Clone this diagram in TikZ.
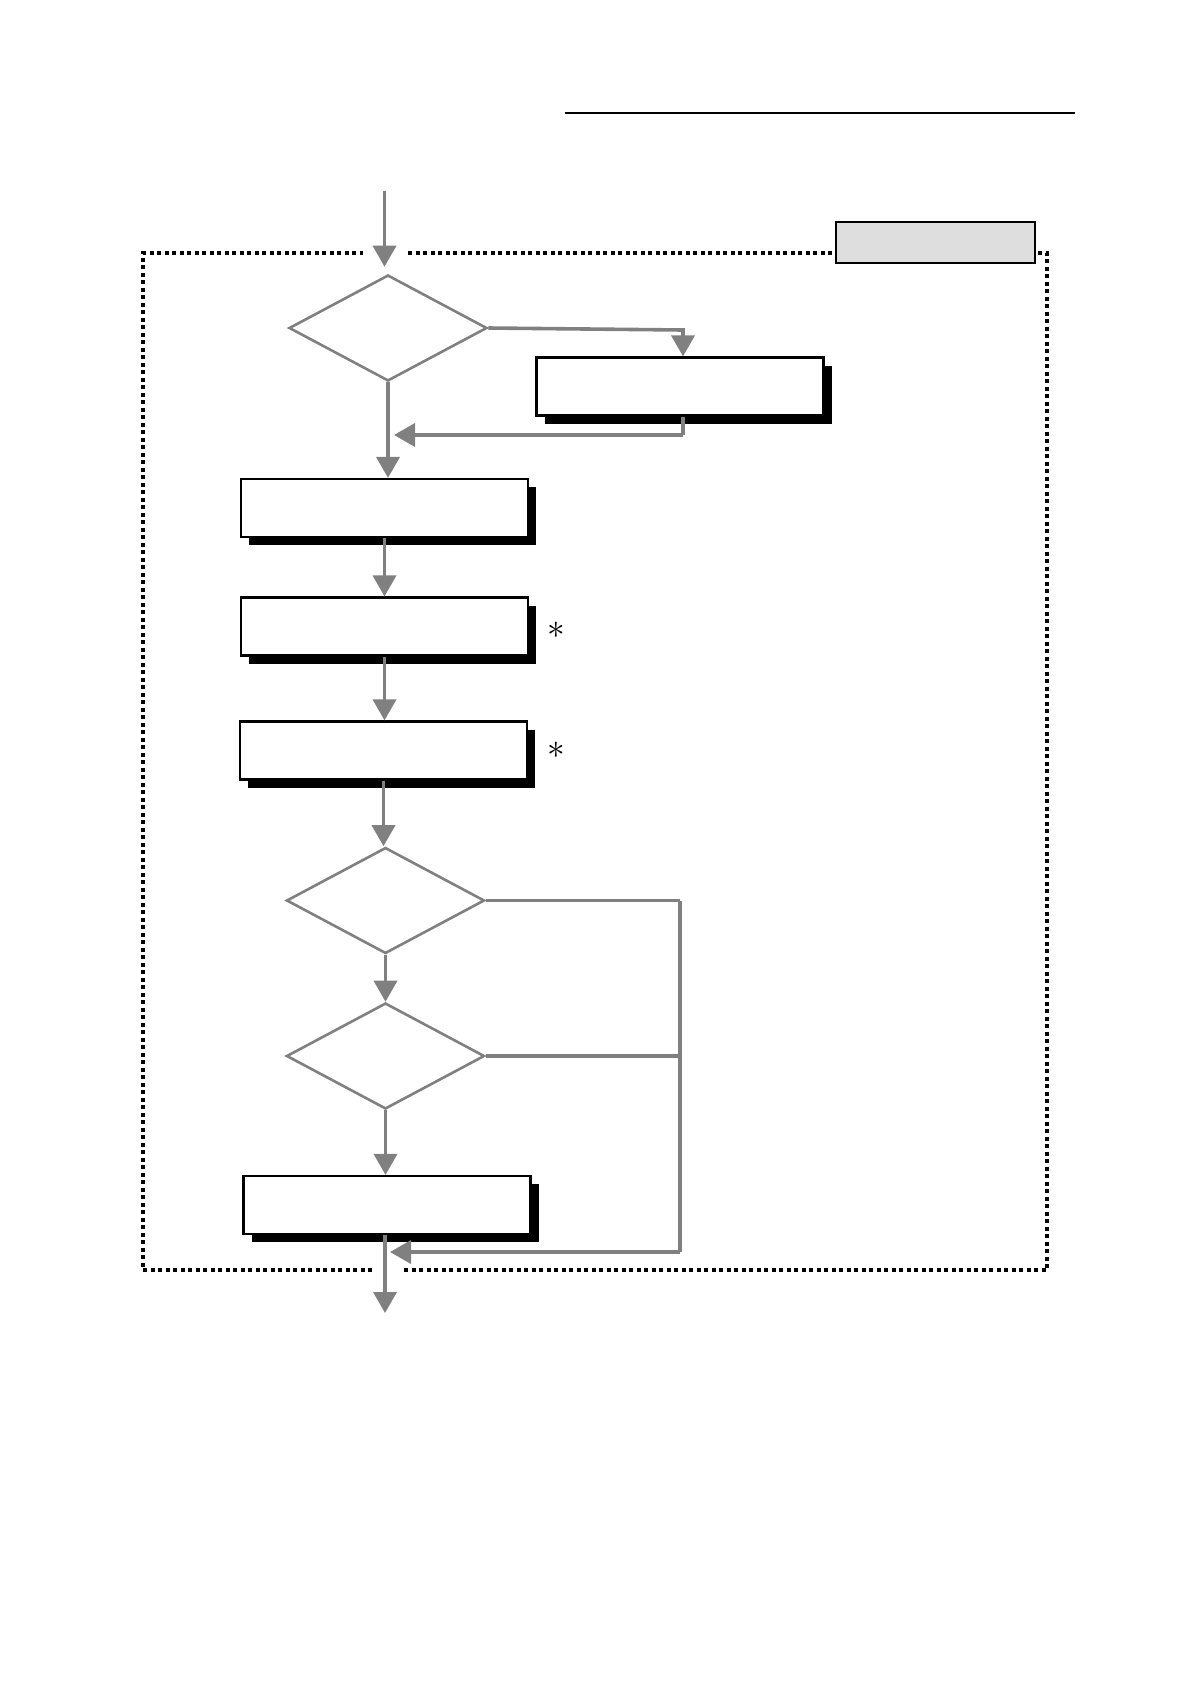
\documentclass[tikz,border=0pt]{standalone}
\usetikzlibrary{shapes.geometric,arrows.meta,shadows}
\begin{document}
\begin{tikzpicture}[x=1pt,y=-1pt,
  flow/.style={draw={rgb,255:red,128;green,128;blue,128}, color={rgb,255:red,128;green,128;blue,128}, line width=3.6pt, -{Triangle[length=21pt,width=23pt]}},
  plain/.style={draw={rgb,255:red,128;green,128;blue,128}, line width=3.6pt},
  pbox/.style={draw=black, line width=2.2pt, fill=white, minimum width=287pt, minimum height=58pt, inner sep=0pt,
     drop shadow={shadow xshift=8pt, shadow yshift=-8pt, fill=black, opacity=1}},
  dia/.style={diamond, draw={rgb,255:red,128;green,128;blue,128}, line width=2.6pt, fill=white, minimum width=198pt, minimum height=106pt, inner sep=0pt},
  frame/.style={draw=black, line width=4pt, dash pattern=on 4pt off 3.5pt},
  note/.style={font=\fontsize{20}{20}\selectfont, inner sep=0pt, scale=1.7}
]
\useasboundingbox (0,0) rectangle (1190,1684);
\fill[white] (0,0) rectangle (1190,1684);
% top rule
\coordinate (r1) at (565,113);
\coordinate (r2) at (1075,113);
\draw[line width=1.2pt] (r1) -- (r2);
% frame
\draw[frame] (408,253) -- (1047,253) -- (1047,1270) -- (402,1270);
\draw[frame] (372,1270) -- (143,1270) -- (143,253) -- (363,253);
% label box
\node[draw=black, line width=2.2pt, fill=black!13, minimum width=199pt, minimum height=41pt, inner sep=0pt] (lbl) at (935.5,242.5) {};
% nodes
\node[dia] (d1) at (388,328) {};
\node[pbox] (bA) at (680,386.5) {};
\node[pbox] (bB) at (384.5,508) {};
\node[pbox] (bC) at (384.5,626.5) {};
\node[pbox] (bD) at (383.5,750.5) {};
\node[dia] (d2) at (385.5,900.5) {};
\node[dia] (d3) at (385.5,1056) {};
\node[pbox] (bE) at (387,1205) {};
\node[note] (s1) at (556,630) {$\ast$};
\node[note] (s2) at (556,750) {$\ast$};
% coordinates
\coordinate (in) at (384.5,191);
\coordinate (br1) at (683,330);
\coordinate (ret1) at (683,435);
\coordinate (ret1t) at (394,435);
\coordinate (jn2) at (680,900.5);
\coordinate (jn3) at (680,1056);
\coordinate (jnb) at (680,1252);
\coordinate (jnt) at (390,1252);
\coordinate (out) at (385,1313);
% connectors
\draw[flow, shorten >=7pt] (in) -- (in |- d1.north);
\draw[flow] (d1.east) -- (br1) -- (br1 |- bA.north);
\draw[plain] (br1 |- bA.south) -- (ret1);
\draw[flow] (ret1) -- (ret1t);
\draw[flow] (d1.south) -- (d1.south |- bB.north);
\draw[flow] (bB.south) -- (bB.south |- bC.north);
\draw[flow] (bC.south) -- (bC.south |- bD.north);
\draw[flow] (bD.south) -- (bD.south |- d2.north);
\draw[flow] (d2.south) -- (d3.north);
\draw[flow] (d3.south) -- (d3.south |- bE.north);
\draw[plain] (d2.east) -- (jn2);
\draw[plain] (d3.east) -- (jn3);
\draw[plain] (jn2) -- (jnb);
\draw[flow] (jnb) -- (jnt);
\draw[flow] (bE.south -| out) -- (out);
\end{tikzpicture}
\end{document}
